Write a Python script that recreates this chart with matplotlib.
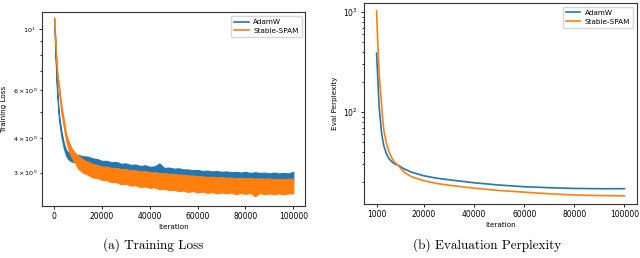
import matplotlib
matplotlib.use("Agg")
import matplotlib.pyplot as plt

# ---------------- data ----------------
# Training loss (envelopes of the noisy curves)
train_iter = [0, 500, 1000, 1500, 2000, 3000, 4000, 5000, 6000, 7000, 8000, 9000,
              10000, 12000, 14000, 16000, 18000, 20000, 22000, 24000, 26000, 28000,
              30000, 32000, 34000, 36000, 38000, 40000, 42000, 44000, 46000, 48000,
              50000, 52000, 54000, 56000, 58000, 60000, 62000, 64000, 66000, 68000,
              70000, 72000, 74000, 76000, 78000, 80000, 82000, 84000, 86000, 88000,
              90000, 92000, 94000, 96000, 98000, 100000]

adamw_hi = [10.9, 8.4, 6.6, 5.6, 4.9, 4.25, 3.85, 3.62, 3.55, 3.50, 3.48, 3.46,
            3.48, 3.44, 3.43, 3.38, 3.36, 3.31, 3.31, 3.27, 3.28, 3.23,
            3.24, 3.20, 3.21, 3.17, 3.19, 3.15, 3.16, 3.24, 3.12, 3.13,
            3.10, 3.11, 3.08, 3.08, 3.06, 3.07, 3.04, 3.05, 3.03, 3.04,
            3.02, 3.03, 3.01, 3.02, 3.00, 3.02, 2.99, 3.01, 2.99, 3.00,
            2.98, 3.00, 2.98, 2.99, 2.98, 3.02]
adamw_lo = [10.5, 8.1, 6.3, 5.35, 4.65, 4.05, 3.68, 3.45, 3.35, 3.30, 3.28, 3.26,
            3.25, 3.22, 3.19, 3.16, 3.14, 3.11, 3.10, 3.08, 3.07, 3.05,
            3.04, 3.03, 3.01, 3.00, 2.99, 2.97, 2.96, 2.95, 2.94, 2.93,
            2.92, 2.91, 2.90, 2.89, 2.89, 2.88, 2.87, 2.87, 2.86, 2.86,
            2.85, 2.85, 2.84, 2.84, 2.84, 2.83, 2.83, 2.83, 2.82, 2.82,
            2.82, 2.82, 2.81, 2.81, 2.81, 2.81]
spam_hi = [11.0, 9.3, 7.6, 6.7, 6.3, 5.3, 4.7, 4.15, 3.90, 3.72, 3.60, 3.52,
           3.46, 3.35, 3.29, 3.23, 3.20, 3.16, 3.15, 3.12, 3.12, 3.09,
           3.09, 3.06, 3.06, 3.03, 3.04, 3.01, 3.01, 2.99, 2.99, 2.97,
           2.97, 2.95, 2.95, 2.93, 2.93, 2.91, 2.91, 2.89, 2.90, 2.88,
           2.89, 2.87, 2.88, 2.86, 2.87, 2.86, 2.87, 2.85, 2.86, 2.85,
           2.86, 2.84, 2.85, 2.84, 2.85, 2.84]
spam_lo = [10.6, 9.0, 7.3, 6.3, 5.9, 4.95, 4.4, 3.90, 3.62, 3.45, 3.32, 3.22,
           3.10, 3.00, 2.95, 2.88, 2.87, 2.82, 2.81, 2.77, 2.77, 2.72,
           2.73, 2.69, 2.70, 2.66, 2.67, 2.64, 2.65, 2.61, 2.62, 2.59,
           2.60, 2.57, 2.58, 2.55, 2.57, 2.54, 2.56, 2.53, 2.55, 2.52,
           2.54, 2.52, 2.54, 2.50, 2.53, 2.51, 2.53, 2.46, 2.53, 2.50,
           2.52, 2.50, 2.52, 2.50, 2.52, 2.52]

# Evaluation perplexity
eval_iter = [1000, 1500, 2000, 3000, 3500, 4000, 5000, 6000, 7000, 8000, 10000,
             12000, 15000, 20000, 25000, 30000, 40000, 50000, 60000, 70000,
             80000, 90000, 100000]
adamw_ppl = [389, 220, 115, 62, 52, 45, 38, 34, 32, 30.5, 29,
             27, 25, 23, 21.8, 21, 19.6, 18.6, 17.9, 17.5,
             17.2, 17.1, 17.1]
spam_ppl = [1030, 490, 250, 120, 82, 64, 48, 40, 35, 32, 28.5,
            25, 22.5, 20.5, 19.3, 18.5, 17.3, 16.4, 15.8, 15.2,
            14.8, 14.6, 14.5]

labels = ["AdamW", "Stable-SPAM"]
captions = ["(a) Training Loss", "(b) Evaluation Perplexity"]
train_xticks = [0, 20000, 40000, 60000, 80000, 100000]
eval_xticks = [1000, 20000, 40000, 60000, 80000, 100000]

# ---------------- plot ----------------
blue = "#1f77b4"
orange = "#ff7f0e"
fs = 5.5
lfs = 5.2

fig = plt.figure(figsize=(6.4, 2.58), dpi=100)
ax1 = fig.add_axes([0.066, 0.202, 0.411, 0.751])
ax2 = fig.add_axes([0.569, 0.209, 0.426, 0.779])

ax1.fill_between(train_iter, adamw_lo, adamw_hi, color=blue, lw=0.8, edgecolor=blue)
ax1.fill_between(train_iter, spam_lo, spam_hi, color=orange, lw=0.8, edgecolor=orange)
ax1.plot([], [], color=blue, lw=1.2, label=labels[0])
ax1.plot([], [], color=orange, lw=1.2, label=labels[1])
ax1.set_yscale("log")
ax1.set_ylim(2.27, 11.5)
ax1.set_xlim(-5000, 105000)
ax1.set_xticks(train_xticks)
ax1.set_xlabel("Iteration", fontsize=lfs, labelpad=2)
ax1.set_ylabel("Training Loss", fontsize=lfs)
ax1.yaxis.set_label_coords(-0.135, 0.5)
ax1.tick_params(axis="x", labelsize=fs)
ax1.tick_params(axis="y", which="both", labelsize=4.6)
ax1.tick_params(which="both", length=2.5, width=0.6, pad=2)
ax1.tick_params(which="minor", length=1.5)
ax1.legend(loc="upper right", fontsize=lfs, handlelength=2.0, borderpad=0.45,
           labelspacing=0.35, handletextpad=0.6, fancybox=True)

ax2.plot(eval_iter, adamw_ppl, color=blue, lw=1.2, label=labels[0])
ax2.plot(eval_iter, spam_ppl, color=orange, lw=1.2, label=labels[1])
ax2.set_yscale("log")
ax2.set_ylim(12, 1230)
ax2.set_xticks(eval_xticks)
ax2.set_xlabel("Iteration", fontsize=lfs, labelpad=2)
ax2.set_ylabel("Eval Perplexity", fontsize=lfs)
ax2.yaxis.set_label_coords(-0.095, 0.5)
ax2.tick_params(labelsize=fs, which="both", length=2.5, width=0.6, pad=2)
ax2.tick_params(which="minor", length=1.5)
ax2.legend(loc="upper right", fontsize=lfs, handlelength=2.0, borderpad=0.45,
           labelspacing=0.35, handletextpad=0.6, fancybox=True)

for ax in (ax1, ax2):
    for s in ax.spines.values():
        s.set_linewidth(0.8)
        s.set_color("#333333")

fig.text(153 / 640, 1 - 245 / 258, captions[0], ha="center", va="center",
         fontsize=9.5, family="cmr10")
fig.text(487 / 640, 1 - 245 / 258, captions[1], ha="center", va="center",
         fontsize=9.5, family="cmr10")

fig.savefig("out.png", dpi=100)
